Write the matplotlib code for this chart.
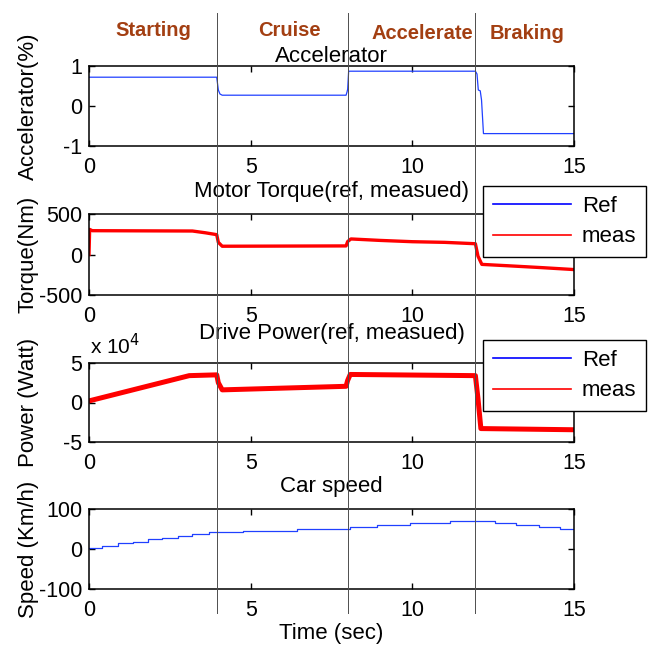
import matplotlib.pyplot as plt
from matplotlib.lines import Line2D
from matplotlib.ticker import FuncFormatter

plt.rcParams['font.family'] = ['Liberation Sans', 'DejaVu Sans']
plt.rcParams['font.size'] = 16
plt.rcParams['axes.unicode_minus'] = False

# drive cycle phases
phase_names = ['Starting', 'Cruise', 'Accelerate', 'Braking']
phase_edges = [3.95, 8.0, 11.95]

# accelerator pedal (-1 .. 1)
acc_t = [0, 3.95, 4.0, 4.05, 4.12, 7.95, 7.98, 8.0, 8.03, 11.95, 12.0, 12.04, 12.1, 12.14, 12.2, 15]
acc_v = [0.72, 0.72, 0.40, 0.30, 0.27, 0.27, 0.35, 0.42, 0.87, 0.87, 0.80, 0.40, 0.38, 0.15, -0.69, -0.69]

# motor torque (Nm)
trq_t = [0, 0.02, 0.1, 3.2, 3.6, 3.95, 4.0, 4.12, 7.95, 8.0, 8.1, 9.0, 10.0, 11.0, 11.95, 12.03, 12.15, 13.0, 14.0, 15.0]
trq_ref = [0, 300, 292, 290, 270, 245, 150, 105, 105, 160, 190, 172, 160, 150, 135, -20, -120, -138, -160, -185]
trq_meas = [0, 310, 294, 290, 268, 245, 150, 102, 106, 160, 192, 174, 158, 150, 133, -20, -122, -140, -162, -186]

# drive power (W)
pwr_t = [0, 3.1, 3.95, 4.0, 4.12, 7.95, 8.0, 8.08, 11.95, 12.03, 12.12, 15]
pwr_ref = [2000, 34000, 35000, 25000, 16000, 20500, 28000, 35500, 34000, 5000, -33000, -34500]
pwr_meas = [2000, 34000, 35000, 25000, 16000, 20500, 28000, 35500, 34000, 5000, -33000, -34500]

# car speed (km/h)
spd_t = [0, 0.41, 0.90, 1.36, 1.83, 2.27, 2.74, 3.20, 3.72, 4.75, 6.42, 8.06, 8.9, 9.94, 11.16, 12.55, 13.22, 13.91, 14.56, 15]
spd_v = [3, 8, 14, 18, 24, 28, 33, 38, 42, 46, 51, 56, 61, 64, 69, 64, 61, 56, 51, 51]

W = H = 651
fig = plt.figure(figsize=(W / 100, H / 100), dpi=100)


def add_ax(top, bottom, left=89, right=574):
    return fig.add_axes([left / W, 1 - bottom / H, (right - left) / W, (bottom - top) / H])


ax1 = add_ax(66, 146)
ax2 = add_ax(214, 295)
ax3 = add_ax(363, 442)
ax4 = add_ax(509, 589)
axes = [ax1, ax2, ax3, ax4]

ax1.plot(acc_t, acc_v, color='#2040ff', lw=0.9)
ax1.set_ylim(-1, 1)
ax1.set_yticks([-1, 0, 1])
ax1.set_title('Accelerator', fontsize=16, pad=3.2)
ax1.set_ylabel('Accelerator(%)')

ax2.plot(trq_t, trq_ref, color='blue', lw=1.0, label='Ref')
ax2.plot(trq_t, trq_meas, color='red', lw=2.4, label='meas')
ax2.set_ylim(-500, 500)
ax2.set_yticks([-500, 0, 500])
ax2.set_title('Motor Torque(ref, measued)', fontsize=16, pad=12)
ax2.set_ylabel('Torque(Nm)')

ax3.plot(pwr_t, pwr_ref, color='blue', lw=1.0, label='Ref')
ax3.plot(pwr_t, pwr_meas, color='red', lw=3.6, label='meas')
ax3.set_ylim(-50000, 50000)
ax3.set_yticks([-50000, 0, 50000])
ax3.yaxis.set_major_formatter(FuncFormatter(lambda v, p: f'{v / 1e4:g}'))
ax3.set_title('Drive Power(ref, measued)', fontsize=16, pad=17.5)
ax3.set_ylabel('Power (Watt)')
fig.text(90 / W, 1 - 346 / H, r'x 10$^{4}$', ha='left', va='center', fontsize=15)

ax4.plot(spd_t, spd_v, color='#2040ff', lw=0.9, drawstyle='steps-post')
ax4.set_ylim(-100, 100)
ax4.set_yticks([-100, 0, 100])
ax4.set_title('Car speed', fontsize=16, pad=12.5)
ax4.set_ylabel('Speed (Km/h)')
ax4.set_xlabel('Time (sec)', labelpad=2)

for ax in axes:
    ax.set_xlim(0, 15)
    ax.set_xticks([0, 5, 10, 15])
    ax.tick_params(direction='in', top=True, right=True, length=4, width=1,
                   labelsize=15.5)
    ax.tick_params(axis='x', pad=7.6)
    ax.tick_params(axis='y', pad=5)
    ax.yaxis.set_label_coords(-0.104, 0.5)
    for s in ax.spines.values():
        s.set_linewidth(1.1)

for ax, top_px in [(ax2, 186), (ax3, 340)]:
    leg = ax.legend(loc='upper left', bbox_to_anchor=(483 / W, 1 - top_px / H),
                    bbox_transform=fig.transFigure, fancybox=False, framealpha=1,
                    edgecolor='black', fontsize=16, borderpad=0.45, labelspacing=0.42,
                    handlelength=3.5, handletextpad=0.5, borderaxespad=0)
    leg.get_frame().set_linewidth(1.0)
    for h in leg.get_lines():
        h.set_linewidth(1.2)

# phase boundaries across all panels
for xb in phase_edges:
    xf = fig.transFigure.inverted().transform(ax4.transData.transform((xb, 0)))[0]
    fig.add_artist(Line2D([xf, xf], [1 - 13 / H, 1 - 613 / H], transform=fig.transFigure,
                          color='0.3', lw=0.7, zorder=10))

phase_pos = [(153, 36), (289, 36), (422, 39), (527, 39)]
for name, (px, py) in zip(phase_names, phase_pos):
    fig.text(px / W, 1 - py / H, name, ha='center', va='baseline',
             fontsize=14.5, fontweight='bold', color='#A33F12')

fig.savefig('out.png', dpi=100)
